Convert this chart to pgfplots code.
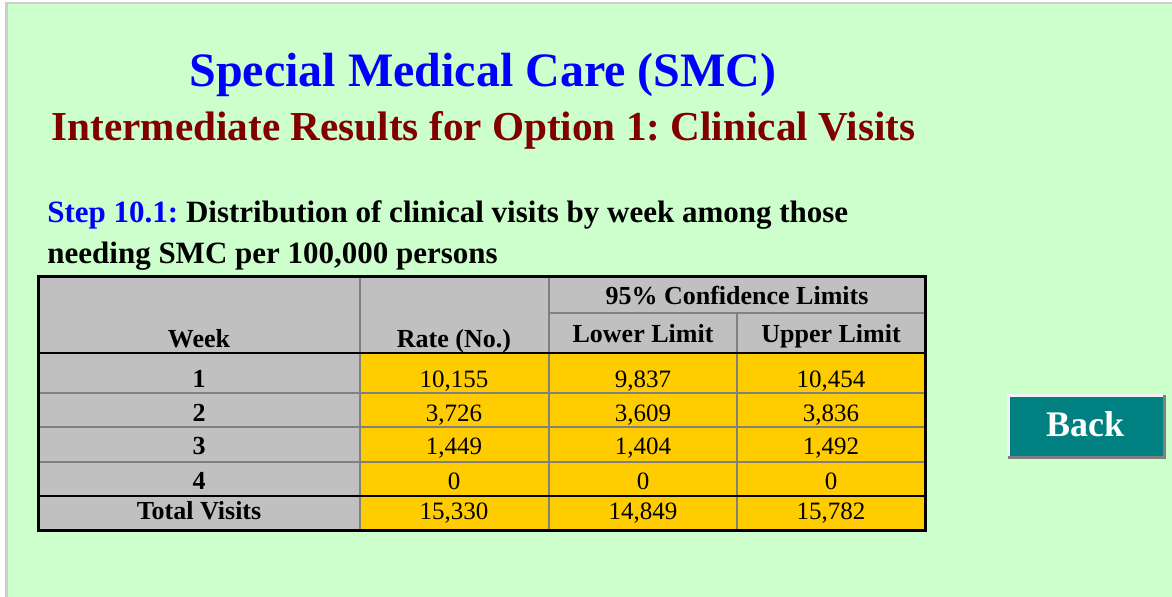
\documentclass[border=0pt]{standalone}
\usepackage{fontspec}
\setmainfont{Liberation Serif}
\usepackage{pgfplots}
\usepackage{pgfplotstable}
\pgfplotsset{compat=1.18}
\frenchspacing
\definecolor{pagegreen}{HTML}{CCFFCC}
\definecolor{cellgray}{HTML}{C0C0C0}
\definecolor{cellgold}{HTML}{FFCC00}
\definecolor{gridgray}{HTML}{808080}
\definecolor{titleblue}{HTML}{0000FF}
\definecolor{titlered}{HTML}{800000}
\definecolor{btnteal}{HTML}{008080}

% y = baseline of each row (pixels from top)
\pgfplotstableread[col sep=comma]{
y,week,rate,lower,upper
388,1,10155,9837,10454
422,2,3726,3609,3836
455,3,1449,1404,1492
490,4,0,0,0
520,Total Visits,15330,14849,15782
}\smcdata

\newcommand{\fs}[1]{\fontsize{#1}{#1}\selectfont}

\begin{document}
\begin{tikzpicture}
\begin{axis}[
    width=586pt, height=298.5pt, scale only axis,
    xmin=0, xmax=1172, ymin=0, ymax=597, y dir=reverse,
    hide axis, clip=false,
    /pgf/number format/.cd, fixed, 1000 sep={,}, assume math mode=true,
    /pgfplots/.cd,
    nodes near coords style={anchor=base, inner sep=0pt, font=\fs{12.5pt}},
]
% page background
\fill[white] (0,0) rectangle (1172,597);
\fill[cellgray!80] (5,2) rectangle (1172,597);
\fill[pagegreen] (7.5,4.5) rectangle (1172,597);

% titles
\node[anchor=base, text=titleblue, font=\fs{24pt}\bfseries] at (483,87) {Special Medical Care (SMC)};
\node[anchor=base, text=titlered, font=\fs{20.6pt}\bfseries] at (483.5,141) {Intermediate Results for Option 1: Clinical Visits};
\node[anchor=base west, inner sep=0pt, font=\fs{15.5pt}\bfseries] at (47,223) {\textcolor{titleblue}{Step 10.1:} Distribution of clinical visits by week among those};
\node[anchor=base west, inner sep=0pt, font=\fs{15.5pt}\bfseries] at (47,264) {needing SMC per 100,000 persons};

% table cells
\fill[cellgray] (38,277) rectangle (925,353);
\fill[cellgray] (38,353) rectangle (360,531);
\fill[cellgold] (360,353) rectangle (925,531);
\draw[gridgray, line width=1pt] (360,277) -- (360,531);
\draw[gridgray, line width=1pt] (549,277) -- (549,531);
\draw[gridgray, line width=1pt] (737,313) -- (737,531);
\draw[gridgray, line width=1pt] (549,313) -- (925,313);
\draw[gridgray, line width=1pt] (38,393) -- (925,393);
\draw[gridgray, line width=1pt] (38,427) -- (925,427);
\draw[gridgray, line width=1pt] (38,462) -- (925,462);
\draw[black, line width=1.2pt] (38,353) -- (925,353);
\draw[black, line width=1pt] (38,496) -- (925,496);
\draw[black, line width=1.5pt] (38,277) rectangle (925,531);

% header
\node[anchor=base, font=\fs{13pt}\bfseries] at (199,348) {Week};
\node[anchor=base, font=\fs{13pt}\bfseries] at (454,348) {Rate (No.)};
\node[anchor=base, font=\fs{13pt}\bfseries] at (737,305) {95\% Confidence Limits};
\node[anchor=base, font=\fs{13pt}\bfseries] at (643,343) {Lower Limit};
\node[anchor=base, font=\fs{13pt}\bfseries] at (831,343) {Upper Limit};

% body values
\addplot[draw=none, nodes near coords, point meta=explicit symbolic,
    nodes near coords style={font=\fs{13pt}\bfseries}]
    table[x expr=199, y=y, meta=week] {\smcdata};
\addplot[draw=none, nodes near coords, point meta=explicit]
    table[x expr=454, y=y, meta=rate] {\smcdata};
\addplot[draw=none, nodes near coords, point meta=explicit]
    table[x expr=643, y=y, meta=lower] {\smcdata};
\addplot[draw=none, nodes near coords, point meta=explicit]
    table[x expr=831, y=y, meta=upper] {\smcdata};

% back button
\fill[gridgray] (1008,395) rectangle (1166,459);
\fill[gray!10] (1007,394) rectangle (1163,456);
\fill[btnteal] (1010,397) rectangle (1163,456);
\node[anchor=base, text=white, font=\fs{18pt}\bfseries] at (1085,437) {Back};
\end{axis}
\end{tikzpicture}
\end{document}
